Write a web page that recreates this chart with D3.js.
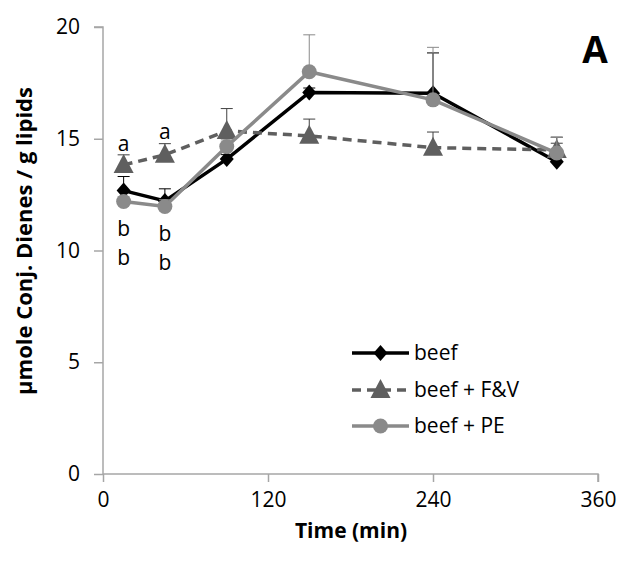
<!DOCTYPE html>
<html><head><meta charset="utf-8">
<script src="https://cdn.jsdelivr.net/npm/d3@7"></script>
<style>body{margin:0;background:#fff}svg{display:block}text{font-family:"Open Sans",sans-serif}</style>
</head><body><svg id="c" width="618" height="562"></svg>
<script>
const times = [15, 45, 90, 150, 240, 330];
const beef = [12.68, 12.22, 14.09, 17.07, 17.04, 13.97];
const beefErr = [0.63, 0.54, 0.2, 0.2, 1.8, 1.1];
const fv = [13.83, 14.28, 15.35, 15.13, 14.6, 14.5];
const fvErr = [0.45, 0.5, 1.0, 0.75, 0.7, 0.3];
const pe = [12.19, 11.97, 14.65, 18.0, 16.74, 14.36];
const peErr = [0.2, 0.3, 0.3, 1.65, 2.35, 0.7];
const xTicks = [0, 120, 240, 360];
const yTicks = [0, 5, 10, 15, 20];
const seriesNames = ["beef", "beef + F&V", "beef + PE"];
const letters = [
  {t: 15, v: 14.8, s: "a"}, {t: 45, v: 15.3, s: "a"},
  {t: 15, v: 11.0, s: "b"}, {t: 45, v: 10.75, s: "b"},
  {t: 15, v: 9.7, s: "b"}, {t: 45, v: 9.45, s: "b"}
];

const svg = d3.select("#c");
const x = d3.scaleLinear().domain([0, 360]).range([103, 598]);
const y = d3.scaleLinear().domain([0, 20]).range([474, 27]);
const axisCol = "#a6a6a6";

// axes
const gx = svg.append("g").attr("transform", "translate(0,474)")
  .call(d3.axisBottom(x).tickValues(xTicks).tickSize(8).tickPadding(10));
const gy = svg.append("g").attr("transform", "translate(103,0)")
  .call(d3.axisLeft(y).tickValues(yTicks).tickSize(9).tickPadding(14));
[gx, gy].forEach(g => {
  g.select(".domain").attr("stroke", axisCol).attr("stroke-width", 1.5);
  g.selectAll(".tick line").attr("stroke", axisCol).attr("stroke-width", 1.5);
  g.selectAll(".tick text").attr("fill", "#000").style("font-size", "21px").style("font-family", "Open Sans");
});
gy.select(".domain").attr("d", "M-9,27H0V474");
gx.select(".domain").attr("d", "M103,0H598V8");

svg.append("text").attr("x", 351).attr("y", 538).attr("text-anchor", "middle")
  .style("font-size", "21px").style("font-weight", "bold").text("Time (min)");
svg.append("text").attr("transform", "translate(32,241) rotate(-90)").attr("text-anchor", "middle")
  .style("font-size", "22px").style("font-weight", "bold").text("µmole Conj. Dienes / g lipids");
svg.append("text").attr("x", 595).attr("y", 63).attr("text-anchor", "middle")
  .style("font-size", "37px").style("font-weight", "bold").text("A");

const series = [
  {vals: beef, err: beefErr, col: "#000000", errCol: "#000000", dash: null, marker: "diamond"},
  {vals: fv, err: fvErr, col: "#5f5f5f", errCol: "#404040", dash: "9,6", marker: "triangle"},
  {vals: pe, err: peErr, col: "#8a8a8a", errCol: "#8a8a8a", dash: null, marker: "circle"}
];
const line = d3.line().x((d, i) => x(times[i])).y(d => y(d));

function marker(g, type, col, cx, cy) {
  if (type === "diamond") {
    g.append("path").attr("d", `M${cx},${cy-8}L${cx+7},${cy}L${cx},${cy+8}L${cx-7},${cy}Z`).attr("fill", col);
  } else if (type === "triangle") {
    g.append("path").attr("d", `M${cx},${cy-11}L${cx+10},${cy+8}L${cx-10},${cy+8}Z`).attr("fill", col);
  } else {
    g.append("circle").attr("cx", cx).attr("cy", cy).attr("r", 7.5).attr("fill", col);
  }
}

series.forEach(s => {
  const g = svg.append("g");
  s.vals.forEach((v, i) => {
    const cx = x(times[i]), top = y(v + s.err[i]);
    g.append("line").attr("x1", cx).attr("x2", cx).attr("y1", y(v)).attr("y2", top).attr("stroke", s.errCol).attr("stroke-width", 1);
    g.append("line").attr("x1", cx - 6).attr("x2", cx + 6).attr("y1", top).attr("y2", top).attr("stroke", s.errCol).attr("stroke-width", 1);
  });
  g.append("path").datum(s.vals).attr("d", line).attr("fill", "none").attr("stroke", s.col)
    .attr("stroke-width", 3.5).attr("stroke-dasharray", s.dash);
  s.vals.forEach((v, i) => marker(g, s.marker, s.col, x(times[i]), y(v)));
});

letters.forEach(l => {
  svg.append("text").attr("x", x(l.t)).attr("y", y(l.v)).attr("text-anchor", "middle")
    .attr("dy", "0.35em").style("font-size", "21px").text(l.s);
});

// legend
const lg = svg.append("g");
const legY = [353, 390, 426];
series.forEach((s, i) => {
  lg.append("line").attr("x1", 352).attr("x2", 409).attr("y1", legY[i]).attr("y2", legY[i])
    .attr("stroke", s.col).attr("stroke-width", 3.5).attr("stroke-dasharray", s.dash);
  marker(lg, s.marker, s.col, 380.5, legY[i]);
  lg.append("text").attr("x", 414).attr("y", legY[i]).attr("dy", "0.35em").style("font-size", "21px").text(seriesNames[i]);
});
</script></body></html>
